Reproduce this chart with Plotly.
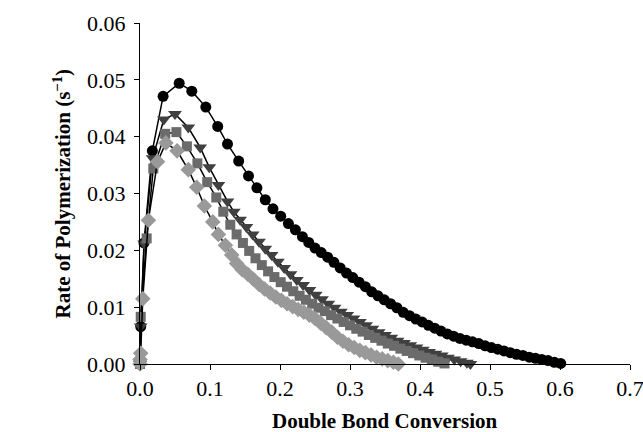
import plotly.graph_objects as go

# Series 1: black circles
circ_x = [0.000, 0.001, 0.0057, 0.0176, 0.033, 0.056, 0.074, 0.094, 0.111, 0.125, 0.141, 0.155, 0.167, 0.179,
          0.190, 0.201, 0.212, 0.222, 0.232, 0.241, 0.250, 0.259, 0.268, 0.277, 0.286, 0.295, 0.304, 0.313,
          0.322, 0.331, 0.340, 0.349, 0.358, 0.367, 0.376, 0.385, 0.394, 0.403, 0.412, 0.421, 0.430, 0.439,
          0.448, 0.457, 0.466, 0.475, 0.484, 0.493, 0.502, 0.511, 0.520, 0.529, 0.538, 0.547, 0.556, 0.565,
          0.574, 0.583, 0.592, 0.601]
circ_y = [0.0000, 0.0066, 0.0213, 0.0375, 0.0471, 0.0494, 0.0480, 0.0452, 0.0418, 0.0387, 0.0357, 0.0331, 0.0310, 0.0289,
          0.0273, 0.0260, 0.0247, 0.0236, 0.0224, 0.0214, 0.0204, 0.0196, 0.0188, 0.0179, 0.0169, 0.0160, 0.0152, 0.0144,
          0.0136, 0.0127, 0.0120, 0.0113, 0.0106, 0.0099, 0.0091, 0.0085, 0.0079, 0.0074, 0.0068, 0.0063, 0.0058, 0.0053,
          0.0049, 0.0045, 0.0042, 0.0039, 0.0036, 0.0032, 0.0029, 0.0026, 0.0023, 0.0020, 0.0017, 0.0015, 0.0012, 0.0010,
          0.0008, 0.0006, 0.0003, 0.0001]

# Series 2: dark grey triangles
tri_x = [0.000, 0.001, 0.006, 0.018, 0.034, 0.050, 0.069, 0.086, 0.099, 0.112, 0.125, 0.134, 0.143, 0.152, 0.161,
         0.170, 0.179, 0.188, 0.197, 0.206, 0.215, 0.224, 0.233, 0.242, 0.251, 0.260, 0.269, 0.278, 0.287, 0.296,
         0.305, 0.314, 0.323, 0.332, 0.341, 0.350, 0.359, 0.368, 0.377, 0.386, 0.395, 0.404, 0.413, 0.422, 0.431,
         0.440, 0.449, 0.458, 0.467, 0.472]
tri_y = [0.0000, 0.0066, 0.0212, 0.0362, 0.0430, 0.0440, 0.0416, 0.0381, 0.0346, 0.0315, 0.0286, 0.0268, 0.0254, 0.0241, 0.0228,
         0.0215, 0.0203, 0.0192, 0.0180, 0.0169, 0.0158, 0.0148, 0.0139, 0.0130, 0.0122, 0.0114, 0.0106, 0.0099, 0.0092, 0.0086,
         0.0080, 0.0074, 0.0068, 0.0062, 0.0056, 0.0051, 0.0046, 0.0041, 0.0037, 0.0033, 0.0029, 0.0025, 0.0021, 0.0018, 0.0015,
         0.0011, 0.0008, 0.0005, 0.0002, 0.0000]

# Series 3: grey squares
sq_x = [0.000, 0.001, 0.0095, 0.019, 0.036, 0.052, 0.067, 0.082, 0.096, 0.109, 0.119, 0.129, 0.138, 0.147, 0.156,
        0.165, 0.174, 0.183, 0.192, 0.201, 0.210, 0.219, 0.228, 0.237, 0.246, 0.255, 0.264, 0.273, 0.282, 0.291,
        0.300, 0.309, 0.318, 0.327, 0.336, 0.345, 0.354, 0.363, 0.372, 0.381, 0.390, 0.399, 0.408, 0.417, 0.426, 0.435]
sq_y = [0.0000, 0.0083, 0.0221, 0.0344, 0.0405, 0.0408, 0.0383, 0.0353, 0.0320, 0.0293, 0.0268, 0.0245, 0.0228, 0.0213, 0.0199,
        0.0186, 0.0174, 0.0163, 0.0153, 0.0144, 0.0136, 0.0128, 0.0120, 0.0113, 0.0106, 0.0099, 0.0093, 0.0086, 0.0080, 0.0074,
        0.0068, 0.0062, 0.0057, 0.0051, 0.0046, 0.0041, 0.0036, 0.0032, 0.0027, 0.0023, 0.0019, 0.0015, 0.0011, 0.0008, 0.0004, 0.0001]

# Series 4: light grey diamonds
dia_x = [0.000, 0.000, 0.001, 0.004, 0.012, 0.025, 0.037, 0.053, 0.069, 0.081, 0.092, 0.104, 0.112, 0.122, 0.131,
         0.138, 0.146, 0.154, 0.162, 0.170, 0.178, 0.186, 0.194, 0.202, 0.210, 0.218, 0.226, 0.234, 0.242, 0.250,
         0.258, 0.266, 0.274, 0.282, 0.290, 0.298, 0.306, 0.314, 0.322, 0.330, 0.338, 0.346, 0.354, 0.362, 0.369]
dia_y = [0.0000, 0.0008, 0.0019, 0.0115, 0.0253, 0.0356, 0.0389, 0.0375, 0.0342, 0.0311, 0.0278, 0.0250, 0.0228, 0.0209, 0.0192,
         0.0177, 0.0166, 0.0158, 0.0149, 0.0140, 0.0132, 0.0125, 0.0118, 0.0112, 0.0106, 0.0101, 0.0096, 0.0091, 0.0086, 0.0080,
         0.0072, 0.0064, 0.0056, 0.0047, 0.0040, 0.0034, 0.0029, 0.0024, 0.0020, 0.0016, 0.0012, 0.0009, 0.0006, 0.0003, 0.0000]

x_ticks = [0.0, 0.1, 0.2, 0.3, 0.4, 0.5, 0.6, 0.7]
y_ticks = [0.00, 0.01, 0.02, 0.03, 0.04, 0.05, 0.06]
x_title = "<b>Double Bond Conversion</b>"
y_title = "<b>Rate of Polymerization (s<sup>−1</sup>)</b>"

series = [
    (circ_x, circ_y, "circle", "#000000", 11),
    (tri_x, tri_y, "triangle-down", "#404040", 12),
    (sq_x, sq_y, "square", "#6b6b6b", 10),
    (dia_x, dia_y, "diamond", "#999999", 12),
]

fig = go.Figure()
for xs, ys, sym, col, sz in series:
    fig.add_trace(go.Scatter(
        x=xs, y=ys, mode="lines+markers",
        line=dict(color="#000000", width=1.5),
        marker=dict(symbol=sym, color=col, size=sz, line=dict(width=0)),
        cliponaxis=False, showlegend=False,
    ))

font = "Liberation Serif, Times New Roman, serif"
fig.update_layout(
    width=643, height=432,
    margin=dict(l=140, r=13, t=23, b=68),
    paper_bgcolor="white", plot_bgcolor="white",
    font=dict(family=font, size=22, color="black"),
    showlegend=False,
)
fig.update_xaxes(
    range=[0, 0.7], tickvals=x_ticks, ticktext=[f"{v:.1f}" for v in x_ticks],
    showgrid=False, zeroline=False, showline=True, linecolor="black", linewidth=1,
    ticks="outside", ticklen=5, tickcolor="black", ticklabelstandoff=0,
    ticklabeloverflow="allow", automargin=False,
)
fig.update_yaxes(
    range=[0, 0.06], tickvals=y_ticks, ticktext=[f"{v:.2f}" for v in y_ticks],
    showgrid=False, zeroline=False, showline=True, linecolor="black", linewidth=1,
    ticks="outside", ticklen=5, tickcolor="black", ticklabelstandoff=4,
    ticklabeloverflow="allow", automargin=False,
)
fig.add_annotation(text=x_title, xref="paper", yref="paper", x=0.5, y=-57 / 341,
                   xanchor="center", yanchor="middle", showarrow=False,
                   font=dict(family=font, size=21, color="black"))
fig.add_annotation(text=y_title, xref="paper", yref="paper", x=-78 / 490, y=0.5,
                   xanchor="center", yanchor="middle", showarrow=False, textangle=-90,
                   font=dict(family=font, size=21, color="black"))

fig.write_html("out.html")
